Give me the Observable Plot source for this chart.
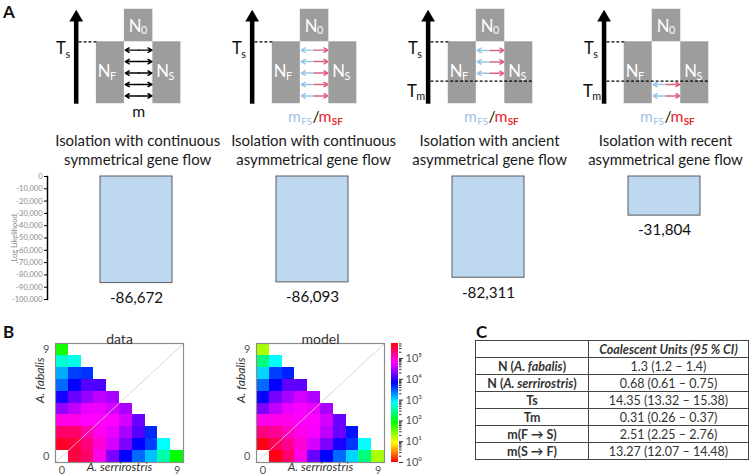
<!DOCTYPE html>
<html>
<head>
<meta charset="utf-8">
<script src="https://cdn.jsdelivr.net/npm/d3@7"></script>
<script src="https://cdn.jsdelivr.net/npm/@observablehq/plot@0.6"></script>
<style>
  body { margin: 0; background: #fff; font-family: Lato, "Open Sans", sans-serif; }
  #root { position: relative; width: 754px; height: 475px; overflow: hidden; background: #fff; }
  .letter { position: absolute; font-weight: bold; font-size: 17px; color: #111; font-family: Lato, sans-serif; }
  table.params { position: absolute; border-collapse: collapse; font-family: Lato, sans-serif; font-size: 12.5px; color: #333; }
  table.params td { border: 1px solid #444; height: 16px; line-height: 15px; padding: 0 3px; text-align: center; white-space: nowrap; }
  table.params td.name { font-weight: bold; width: 106px; }
  table.params td.head { font-weight: bold; font-style: italic; }
</style>
</head>
<body>
<div id="root"></div>
<script>
// ---------------- DATA ----------------
const models = ["continuous-symmetrical", "continuous-asymmetrical", "ancient-asymmetrical", "recent-asymmetrical"];
const modelTitles = [
  "Isolation with continuous\nsymmetrical gene flow",
  "Isolation with continuous\nasymmetrical gene flow",
  "Isolation with ancient\nasymmetrical gene flow",
  "Isolation with recent\nasymmetrical gene flow"
];
const migrationKind = ["symmetrical", "asymmetrical", "asymmetrical", "asymmetrical"];
const migrationPeriod = ["continuous", "continuous", "ancient", "recent"];
const logLikelihood = [-86672, -86093, -82311, -31804];
const likelihoodTicks = [0, -10000, -20000, -30000, -40000, -50000, -60000, -70000, -80000, -90000, -100000];

// joint site frequency spectra, rows = A. fabalis count 0..9, columns = A. serrirostris count 0..9
const dataSFS = [
  [null, 302000, 213000, 70800, 19500, 6600, 2630, 1260, 350, 81],
  [363000, 302000, 178000, 85000, 40700, 19500, 6600, 3800, 725],
  [213000, 213000, 123000, 70800, 49000, 28200, 13500, 4570],
  [70800, 70800, 58900, 58900, 58900, 40700, 16200],
  [23400, 33900, 49000, 49000, 40700, 28200],
  [7900, 16200, 23400, 33900, 28200],
  [2630, 6600, 13500, 12600],
  [1510, 3800, 4200],
  [500, 600],
  [67]
];
const modelSFS = [
  [null, 437000, 213000, 70800, 16200, 6600, 2630, 1050, 240, 19],
  [437000, 255000, 148000, 85000, 40700, 19500, 7900, 4200, 725],
  [178000, 148000, 102000, 70800, 55000, 33900, 16200, 5500],
  [70800, 70800, 70800, 58900, 58900, 40700, 16200],
  [19500, 33900, 49000, 55000, 49000, 28200],
  [7050, 18200, 28200, 40700, 30200],
  [2630, 6600, 14800, 14800],
  [1050, 3800, 4900],
  [240, 725],
  [19]
];
const sfsTickLabels = [0, 9];
const colorbarTicks = [1, 10, 100, 1000, 10000, 100000];
const sfsMax = 525000;

const paramNames = ["N (A. fabalis)", "N (A. serrirostris)", "Ts", "Tm", "m(F \u2192 S)", "m(S \u2192 F)"];
const estimates = [1.3, 0.68, 14.35, 0.31, 2.51, 13.27];
const ciLow = [1.2, 0.61, 13.32, 0.26, 2.25, 12.07];
const ciHigh = [1.4, 0.75, 15.38, 0.37, 2.76, 14.48];

// ---------------- RENDER ----------------
const FONT = "Lato, 'Open Sans', sans-serif";
const root = document.getElementById("root");
function place(el, left, top) {
  el.style.position = "absolute";
  el.style.left = left + "px";
  el.style.top = top + "px";
  root.appendChild(el);
  return el;
}
function letter(t, left, top) {
  const d = document.createElement("div");
  d.className = "letter";
  d.textContent = t;
  place(d, left, top);
}
const fmt = d => (d < 0 ? "-" : "") + d3.format(",")(Math.abs(d));

// ---- Panel A: model diagrams ----
const T_S = 2, T_M = 0.73, T_TOP = 3.05;
const GRAY = "#9d9d9d", BLUE = "#9dc3e6", RED = "#e0607e", REDTXT = "#e8262b";
const boxes = [
  {x1: -14.5, x2: 14.5, y1: T_S, y2: T_TOP},
  {x1: -43, x2: -14.5, y1: 0, y2: T_S},
  {x1: 14.5, x2: 43, y1: 0, y2: T_S}
];
const popLabels = [
  {x: -3.5, y: 2.5, sub: "0"},
  {x: -35, y: 1.02, sub: "F"},
  {x: 24.5, y: 1.02, sub: "S"}
];
const windows = {continuous: [0, T_S], ancient: [T_M, T_S], recent: [0, T_M]};
const migRows = [];
models.forEach((m, k) => {
  const [lo, hi] = windows[migrationPeriod[k]];
  for (let t = lo + 0.25; t < hi - 0.05; t += 0.37) migRows.push({model: m, t, sym: migrationKind[k] === "symmetrical"});
});
const symRows = migRows.filter(d => d.sym), asymRows = migRows.filter(d => !d.sym);
const tmModels = models.filter((m, k) => migrationPeriod[k] !== "continuous").map(m => ({model: m}));
const symModels = models.filter((m, k) => migrationKind[k] === "symmetrical").map(m => ({model: m}));
const asymModels = models.filter((m, k) => migrationKind[k] !== "symmetrical").map(m => ({model: m}));
const titleRows = models.map((m, k) => ({model: m, title: modelTitles[k]}));

const one = [{}];
const diagram = Plot.plot({
  width: 767, height: 170, marginLeft: 51, marginRight: 0, marginTop: 0, marginBottom: 0,
  fx: {domain: models, padding: 0, axis: null},
  x: {domain: [-89.5, 89.5], axis: null},
  y: {domain: [-2.063, 3.333], axis: null},
  style: {fontFamily: FONT, background: "transparent", overflow: "visible"},
  marks: [
    Plot.rect(boxes, {x1: "x1", x2: "x2", y1: "y1", y2: "y2", fill: GRAY}),
    // time arrow
    Plot.link(one, {x1: () => -63.5, x2: () => -63.5, y1: () => 0, y2: () => 2.78, stroke: "black", strokeWidth: 4.6}),
    Plot.dot(one, {x: () => -63.5, y: () => 2.78, symbol: "triangle", r: 5.2, fill: "black"}),
    // Ts dashed line
    Plot.link(one, {x1: () => -61, x2: () => -43, y1: () => T_S, y2: () => T_S, stroke: "black", strokeWidth: 1.3, strokeDasharray: "3,2"}),
    Plot.text(one, {x: () => -79, y: () => 1.78, text: () => "T", fontSize: 17, fill: "#111"}),
    Plot.text(one, {x: () => -74.5, y: () => 1.6, text: () => "s", fontSize: 11, textAnchor: "start", fill: "#111"}),
    // Tm dashed line and label
    Plot.link(tmModels, {fx: "model", x1: () => -61, x2: () => 43, y1: () => T_M, y2: () => T_M, stroke: "black", strokeWidth: 1.3, strokeDasharray: "3,2"}),
    Plot.text(tmModels, {fx: "model", x: () => -80, y: () => 0.4, text: () => "T", fontSize: 17, fill: "#111"}),
    Plot.text(tmModels, {fx: "model", x: () => -75.5, y: () => 0.22, text: () => "m", fontSize: 11, textAnchor: "start", fill: "#111"}),
    // population labels
    Plot.text(popLabels, {x: "x", y: "y", text: () => "N", fontSize: 17, fill: "white"}),
    Plot.text(popLabels, {x: d => d.x + 6, y: d => d.y - 0.15, text: "sub", fontSize: 11, fill: "white", textAnchor: "start"}),
    // migration arrows
    Plot.arrow(symRows, {fx: "model", x1: () => 0, x2: () => -13.5, y1: "t", y2: "t", stroke: "black", strokeWidth: 1.5, headLength: 6}),
    Plot.arrow(symRows, {fx: "model", x1: () => 0, x2: () => 13.5, y1: "t", y2: "t", stroke: "black", strokeWidth: 1.5, headLength: 6}),
    Plot.arrow(asymRows, {fx: "model", x1: () => 0, x2: () => -13.5, y1: "t", y2: "t", stroke: BLUE, strokeWidth: 1.5, headLength: 6}),
    Plot.arrow(asymRows, {fx: "model", x1: () => 0, x2: () => 13.5, y1: "t", y2: "t", stroke: RED, strokeWidth: 1.5, headLength: 6}),
    // migration labels
    Plot.text(symModels, {fx: "model", x: () => 0, y: () => -0.25, text: () => "m", fontSize: 16, fill: "#111"}),
    Plot.text(asymModels, {fx: "model", x: () => -27, y: () => -0.44, text: () => "m", fontSize: 16, fill: BLUE, textAnchor: "start"}),
    Plot.text(asymModels, {fx: "model", x: () => -13.5, y: () => -0.57, text: () => "FS", fontSize: 10, fill: BLUE, textAnchor: "start"}),
    Plot.text(asymModels, {fx: "model", x: () => -2, y: () => -0.44, text: () => "/", fontSize: 16, fill: "#111", textAnchor: "start"}),
    Plot.text(asymModels, {fx: "model", x: () => 4, y: () => -0.44, text: () => "m", fontSize: 16, fill: REDTXT, textAnchor: "start"}),
    Plot.text(asymModels, {fx: "model", x: () => 17.5, y: () => -0.57, text: () => "SF", fontSize: 10, fill: REDTXT, textAnchor: "start", fontWeight: "bold"}),
    // titles
    Plot.text(titleRows, {fx: "model", x: () => -1, y: () => -1.47, text: "title", fontSize: 15.2, lineHeight: 1.3, fill: "#1a1a1a"})
  ]
});
place(diagram, 0, 0);

// ---- Panel A: log-likelihood bars ----
const barData = models.map((m, k) => ({model: m, ll: logLikelihood[k]}));
const bars = Plot.plot({
  width: 754, height: 150, marginLeft: 47, marginRight: 0, marginTop: 11, marginBottom: 16,
  x: {domain: models, paddingInner: 0.59, paddingOuter: 0.295, axis: null},
  y: {domain: [-100000, 0], axis: null},
  style: {fontFamily: FONT, background: "transparent", overflow: "visible"},
  marks: [
    Plot.barY(barData, {x: "model", y: "ll", fill: "#bdd7ee", stroke: "#5a5a5a", strokeWidth: 1}),
    Plot.text(barData, {x: "model", y: "ll", text: d => fmt(d.ll), dy: 15, fontSize: 15.2, fill: "#111"}),
    Plot.axisY(likelihoodTicks, {tickSize: 3, tickPadding: 2, tickFormat: fmt, fontSize: 7.5, stroke: "black", fill: "#8a8a8a",
      label: "Log Likelihood", labelAnchor: "center", labelArrow: "none", labelOffset: 36}),
    Plot.frame({anchor: "left", stroke: "black", strokeWidth: 1.5})
  ]
});
place(bars, 0, 165);

// ---- Panel B: SFS heatmaps ----
const colorOpts = {type: "log", domain: [1, sfsMax], clamp: true, interpolate: t => d3.hsl(360 * t, 1, 0.5).formatHex()};
function sfsPlot(matrix, title) {
  const cells = [];
  matrix.forEach((row, j) => row.forEach((v, i) => { if (v != null) cells.push({i, j, v}); }));
  const ticks = sfsTickLabels.map(d => d + 0.5);
  return Plot.plot({
    width: 200, height: 155, marginLeft: 55, marginRight: 17, marginTop: 23, marginBottom: 13,
    x: {domain: [0, 10], axis: null},
    y: {domain: [0, 10], axis: null},
    color: colorOpts,
    style: {fontFamily: FONT, background: "transparent", overflow: "visible"},
    marks: [
      Plot.rect(cells, {x1: "i", x2: d => d.i + 1, y1: "j", y2: d => d.j + 1, fill: "v", shapeRendering: "crispEdges"}),
      Plot.link(one, {x1: () => 0, y1: () => 0, x2: () => 10, y2: () => 10, stroke: "#cfcfcf", strokeWidth: 1, strokeOpacity: 0.85}),
      Plot.frame({stroke: "#8c8c8c", strokeWidth: 1.2}),
      Plot.axisX(ticks, {tickSize: 0, tickPadding: 4, tickFormat: d => Math.floor(d), fontSize: 11, fill: "#555", label: null}),
      Plot.axisY(ticks, {tickSize: 0, tickPadding: 6, tickFormat: d => Math.floor(d), fontSize: 11, fill: "#555", label: null}),
      Plot.text([title], {frameAnchor: "top", dy: -9, fontSize: 14, fill: "#333"}),
      Plot.text(["A. serrirostris"], {frameAnchor: "bottom", dy: 8, fontSize: 12, fontStyle: "italic", fill: "#333"}),
      Plot.text(["A. fabalis"], {frameAnchor: "left", dx: -15, rotate: -90, fontSize: 12, fontStyle: "italic", fill: "#333"})
    ]
  });
}
place(sfsPlot(dataSFS, "data"), 0, 320);
place(sfsPlot(modelSFS, "model"), 201, 320);

// colorbar
const NSTEP = 240, L = Math.log10(sfsMax);
const ramp = d3.range(NSTEP).map(k => ({y1: 10 ** (L * k / NSTEP), y2: 10 ** (L * (k + 1) / NSTEP)}));
const minor = [];
for (let p = 0; p < 6; p++) for (let m = 2; m <= 9; m++) if (m * 10 ** p < sfsMax) minor.push(m * 10 ** p);
const sup = "\u2070\u00b9\u00b2\u00b3\u2074\u2075";
const colorbar = Plot.plot({
  width: 50, height: 155, marginLeft: 6, marginRight: 37, marginTop: 23, marginBottom: 13,
  x: {domain: [0, 1], axis: null},
  y: {type: "log", domain: [1, sfsMax], axis: null},
  color: colorOpts,
  style: {fontFamily: FONT, background: "transparent", overflow: "visible"},
  marks: [
    Plot.rect(ramp, {x1: () => 0, x2: () => 1, y1: "y1", y2: "y2", fill: d => Math.sqrt(d.y1 * d.y2), shapeRendering: "crispEdges"}),
    Plot.axisY(minor, {anchor: "right", tickSize: 2.5, tickFormat: () => "", stroke: "#333", label: null}),
    Plot.axisY(colorbarTicks, {anchor: "right", tickSize: 4, tickPadding: 3, tickFormat: d => "10" + sup[Math.round(Math.log10(d))], fontSize: 11, fill: "#555", stroke: "#333", label: null})
  ]
});
place(colorbar, 385, 320);

// ---- Panel C: parameter table ----
const table = document.createElement("table");
table.className = "params";
const esc = s => s.replace(/(A\. \w+)/, "<i>$1</i>");
let html = `<tr><td class="name"></td><td class="head">Coalescent Units (95 % CI)</td></tr>`;
paramNames.forEach((p, k) => {
  html += `<tr><td class="name">${esc(p)}</td><td>${estimates[k]} (${ciLow[k]} \u2013 ${ciHigh[k]})</td></tr>`;
});
table.innerHTML = html;
table.style.width = "274px";
place(table, 475, 340);

letter("A", 3, 1);
letter("B", 3, 321);
letter("C", 476, 321);
</script>
</body>
</html>
